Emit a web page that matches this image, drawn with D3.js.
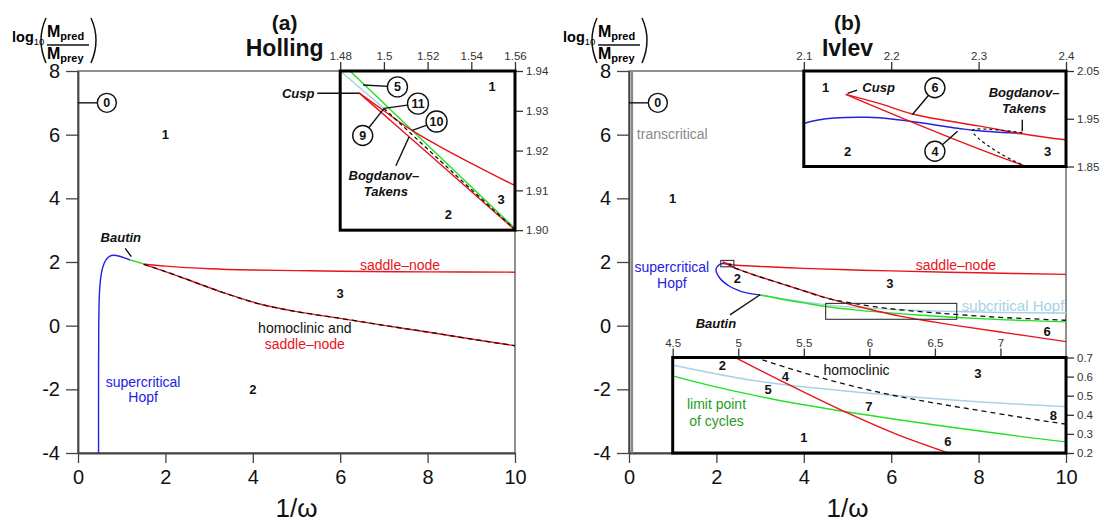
<!DOCTYPE html>
<html>
<head>
<meta charset="utf-8">
<script src="https://cdn.jsdelivr.net/npm/d3@7"></script>
<style>
  body { margin: 0; background: #fff; }
  svg { font-family: "Liberation Sans", Arial, sans-serif; }
</style>
</head>
<body>
<svg id="chart" width="1104" height="525"></svg>
<script>
// ---------- data ----------
const xTicks = [0, 2, 4, 6, 8, 10];
const yTicks = [-4, -2, 0, 2, 4, 6, 8];
const zeroRegionY = 7;

// (a) Holling, full view
const hoHopfX = [0.47, 0.47, 0.475, 0.49, 0.52, 0.57, 0.64, 0.72, 0.82, 0.95, 1.08, 1.2];
const hoHopfY = [-4.2, -2, 0, 1, 1.5, 1.85, 2.07, 2.18, 2.21, 2.18, 2.12, 2.06];
const hoLpcX = [1.2, 1.33, 1.48];
const hoLpcY = [2.06, 2.01, 1.95];
const hoSnUpX = [1.49, 2, 3, 4, 5, 6, 8, 10];
const hoSnUpY = [1.935, 1.87, 1.79, 1.75, 1.73, 1.71, 1.69, 1.68];
const hoSnLoX = [1.49, 2, 2.64, 3.3, 4.16, 5, 6, 7, 8, 9, 10];
const hoSnLoY = [1.935, 1.70, 1.38, 1.05, 0.68, 0.44, 0.23, 0.01, -0.20, -0.42, -0.63];
const hoHomX = [1.51, 2, 2.64, 3.3, 4.16, 5, 6, 7, 8, 9, 10];
const hoHomY = [1.925, 1.70, 1.38, 1.05, 0.68, 0.44, 0.23, 0.01, -0.20, -0.42, -0.63];

// (a) Holling, zoom near the cusp
const hoZoomX = [1.48, 1.56];
const hoZoomY = [1.90, 1.94];
const hoZoomXTicks = [1.48, 1.5, 1.52, 1.54, 1.56];
const hoZoomYTicks = [1.90, 1.91, 1.92, 1.93, 1.94];
const hoInLpcX = [1.47, 1.5125, 1.57];
const hoInLpcY = [1.9476, 1.9253, 1.8952];
const hoInSubX = [1.47, 1.50];
const hoInSubY = [1.9447, 1.9306];
const hoInHomX = [1.5, 1.53, 1.5585, 1.57];
const hoInHomY = [1.9306, 1.9153, 1.9009, 1.8952];
const hoInSnLoX = [1.4886, 1.52, 1.57];
const hoInSnLoY = [1.9345, 1.9194, 1.8952];
const hoInSnUpX = [1.4886, 1.50, 1.5125, 1.525, 1.54, 1.56, 1.57];
const hoInSnUpY = [1.9345, 1.9300, 1.9252, 1.9212, 1.9168, 1.9112, 1.9085];

// (b) Ivlev
const ivTransX = [0.07, 0.07];
const ivTransY = [-4, 8];
const ivHopfX = [2.35, 2.293, 2.276, 2.173, 2.1, 2.04, 1.99, 2.08, 2.31, 2.5, 2.69, 3.0];
const ivHopfY = [1.919, 1.926, 1.93, 1.953, 1.94, 1.88, 1.78, 1.49, 1.23, 1.11, 1.03, 0.965];
const ivSubX = [3.0, 3.5, 4.0, 4.5, 5.17, 6.0, 6.8, 7.5, 8.5, 10];
const ivSubY = [0.965, 0.845, 0.745, 0.661, 0.574, 0.513, 0.47, 0.443, 0.415, 0.40];
const ivLpcX = [3.0, 3.5, 4.0, 4.5, 5.17, 5.82, 6.7, 7.5, 8.5, 10];
const ivLpcY = [0.965, 0.83, 0.715, 0.604, 0.495, 0.416, 0.328, 0.258, 0.19, 0.12];
const ivSnUpX = [2.148, 2.19, 2.224, 2.3, 2.4, 3, 4, 5, 6, 8, 10];
const ivSnUpY = [2.001, 1.98, 1.96, 1.935, 1.906, 1.86, 1.80, 1.755, 1.72, 1.66, 1.61];
const ivSnLoX = [2.148, 2.352, 2.6, 3, 3.6, 4.2, 4.5, 4.95, 5.32, 5.8, 6.2, 6.54, 7, 7.5, 8.5, 10];
const ivSnLoY = [2.001, 1.852, 1.72, 1.53, 1.27, 1.01, 0.88, 0.71, 0.58, 0.42, 0.30, 0.215, 0.11, 0.0, -0.2, -0.5];
const ivHomX = [2.35, 2.293, 2.30, 2.352, 2.6, 3, 3.6, 4.2, 4.5, 4.8, 5.145, 5.6, 6.16, 6.95, 7.46, 8.5, 10];
const ivHomY = [1.921, 1.926, 1.909, 1.852, 1.72, 1.53, 1.27, 1.0, 0.87, 0.78, 0.697, 0.60, 0.505, 0.41, 0.355, 0.26, 0.17];

const ivTopX = [2.1, 2.4], ivTopY = [1.85, 2.05];
const ivTopXTicks = [2.1, 2.2, 2.3, 2.4];
const ivTopYTicks = [1.85, 1.95, 2.05];
const ivBotX = [4.5, 7.5], ivBotY = [0.2, 0.7];
const ivBotXTicks = [4.5, 5, 5.5, 6, 6.5, 7];
const ivBotYTicks = [0.2, 0.3, 0.4, 0.5, 0.6, 0.7];

// ---------- drawing ----------
const svg = d3.select('#chart');
const defs = svg.append('defs');
const FONT = '"Liberation Sans", Arial, sans-serif';
const col = { red: '#e8141b', blue: '#2222e0', green: '#22e022', lblue: '#a8d1e6', grey: '#8a8a8a', dkgreen: '#2a9a2a' };

const pts = (xs, ys) => xs.map((v, i) => [v, ys[i]]);

function draw(g, sx, sy, xs, ys, color, dash, w) {
  const ln = d3.line().x(d => sx(d[0])).y(d => sy(d[1])).curve(d3.curveCatmullRom.alpha(0.5));
  g.append('path').datum(pts(xs, ys))
    .attr('d', ln)
    .attr('fill', 'none')
    .attr('stroke', color)
    .attr('stroke-width', w || 1.4)
    .attr('stroke-dasharray', dash || null);
}

function label(g, x, y, s, o = {}) {
  return g.append('text').attr('x', x).attr('y', y)
    .attr('text-anchor', o.anchor || 'middle')
    .attr('dominant-baseline', o.base ? null : 'central')
    .attr('font-size', o.size || 13)
    .attr('font-weight', o.bold ? 'bold' : null)
    .attr('font-style', o.italic ? 'italic' : null)
    .attr('fill', o.color || '#111')
    .text(s);
}

function seg(g, x1, y1, x2, y2) {
  g.append('line').attr('x1', x1).attr('y1', y1).attr('x2', x2).attr('y2', y2)
    .attr('stroke', '#111').attr('stroke-width', 1.4);
}

function ring(g, cx, cy, s, r) {
  g.append('circle').attr('cx', cx).attr('cy', cy).attr('r', r || 10)
    .attr('fill', '#fff').attr('stroke', '#111').attr('stroke-width', 1.4);
  label(g, cx, cy + 0.5, s, { bold: true, size: 12.5 });
}

let clipN = 0;
function clip(g, x0, y0, w, h) {
  const id = 'clip' + (clipN++);
  defs.append('clipPath').attr('id', id)
    .append('rect').attr('x', x0).attr('y', y0).attr('width', w).attr('height', h);
  return g.append('g').attr('clip-path', `url(#${id})`);
}

function yLabel(ox) {
  const t = svg.append('g').attr('transform', `translate(${ox},0)`);
  const l = t.append('text').attr('x', 12).attr('y', 42).attr('font-size', 14.5).attr('font-weight', 'bold').text('log');
  l.append('tspan').attr('font-size', 9.5).attr('font-weight', 'normal').attr('dy', 3).text('10');
  t.append('path').attr('d', 'M46,18 Q36,40 46,63').attr('fill', 'none').attr('stroke', '#111').attr('stroke-width', 1.5);
  t.append('path').attr('d', 'M91,18 Q101,40 91,63').attr('fill', 'none').attr('stroke', '#111').attr('stroke-width', 1.5);
  const m1 = t.append('text').attr('x', 47).attr('y', 37).attr('font-size', 16).attr('font-weight', 'bold').text('M');
  m1.append('tspan').attr('font-size', 11).attr('dy', 3).text('pred');
  t.append('line').attr('x1', 47).attr('x2', 89).attr('y1', 45).attr('y2', 45).attr('stroke', '#111').attr('stroke-width', 1.3);
  const m2 = t.append('text').attr('x', 47).attr('y', 59).attr('font-size', 16).attr('font-weight', 'bold').text('M');
  m2.append('tspan').attr('font-size', 11).attr('dy', 3).text('prey');
}

function styleAxis(a, size, color) {
  a.attr('font-family', FONT).attr('font-size', size);
  a.selectAll('.tick text').attr('fill', '#111');
  a.selectAll('.tick line').attr('stroke', color).attr('stroke-width', 1.3);
  a.select('.domain').attr('stroke', color);
}

function panel(left, tag, name, titleX) {
  const x = d3.scaleLinear().domain([0, 10]).range([left, left + 437]);
  const y = d3.scaleLinear().domain([-4, 8]).range([453, 71]);
  const g = svg.append('g');
  g.append('rect').attr('x', x(0)).attr('y', y(8)).attr('width', x(10) - x(0)).attr('height', y(-4) - y(8))
    .attr('fill', 'none').attr('stroke', '#333').attr('stroke-width', 1.1);
  const ax = g.append('g').attr('transform', `translate(0,${y(-4)})`)
    .call(d3.axisBottom(x).tickValues(xTicks).tickSize(10).tickPadding(7).tickSizeOuter(0));
  const ay = g.append('g').attr('transform', `translate(${x(0)},0)`)
    .call(d3.axisLeft(y).tickValues(yTicks).tickSize(12).tickPadding(6).tickSizeOuter(0)
      .tickFormat(d => d < 0 ? '-' + (-d) : String(d)));
  styleAxis(ax, 20, '#444');
  styleAxis(ay, 20, '#444');
  ax.select('.domain').attr('stroke-width', 1.8);
  ay.select('.domain').attr('stroke-width', 1.8);
  const c = clip(g, x(0), y(8), x(10) - x(0), y(-4) - y(8));
  const a = svg.append('g');
  label(a, x(titleX), 30, tag, { bold: true, size: 21, base: true });
  label(a, x(titleX), 56, name, { bold: true, size: 23, base: true });
  const xl = label(a, x(5), 517, '1/', { size: 26, base: true });
  xl.append('tspan').text('ω');
  seg(a, x(0), y(zeroRegionY), x(0.66), y(zeroRegionY));
  ring(a, x(0.66), y(zeroRegionY), '0', 9.5);
  yLabel(left - 78);
  return { x, y, c, a };
}

function inset(P, mx, my, dx, dy, xt, xf, yt, yf) {
  const x0 = P.x(mx[0]), x1 = P.x(mx[1]), y0 = P.y(my[1]), y1 = P.y(my[0]);
  const sx = d3.scaleLinear().domain(dx).range([x0, x1]);
  const sy = d3.scaleLinear().domain(dy).range([y1, y0]);
  const g = svg.append('g');
  g.append('rect').attr('x', x0).attr('y', y0).attr('width', x1 - x0).attr('height', y1 - y0).attr('fill', '#fff');
  const c = clip(g, x0, y0, x1 - x0, y1 - y0);
  const top = g.append('g').attr('transform', `translate(0,${y0})`)
    .call(d3.axisTop(sx).tickValues(xt).tickFormat(xf).tickSize(9).tickPadding(2).tickSizeOuter(0));
  const right = g.append('g').attr('transform', `translate(${x1},0)`)
    .call(d3.axisRight(sy).tickValues(yt).tickFormat(yf).tickSize(8).tickPadding(3).tickSizeOuter(0));
  styleAxis(top, 11.5, '#333');
  styleAxis(right, 11.5, '#333');
  top.selectAll('.tick text').attr('fill', '#333');
  right.selectAll('.tick text').attr('fill', '#333');
  g.append('rect').attr('x', x0).attr('y', y0).attr('width', x1 - x0).attr('height', y1 - y0)
    .attr('fill', 'none').attr('stroke', '#000').attr('stroke-width', 3);
  const a = g.append('g');
  return { sx, sy, c, a };
}

const bold = { bold: true, size: 13 };
const bi = { bold: true, italic: true, size: 13 };

// ===== panel (a) Holling =====
const A = panel(78, '(a)', 'Holling', 4.73);
draw(A.c, A.x, A.y, hoHopfX, hoHopfY, col.blue);
draw(A.c, A.x, A.y, hoLpcX, hoLpcY, col.green);
draw(A.c, A.x, A.y, hoSnUpX, hoSnUpY, col.red);
draw(A.c, A.x, A.y, hoSnLoX, hoSnLoY, col.red);
draw(A.c, A.x, A.y, hoHomX, hoHomY, '#111', '5,4', 1.3);

label(A.a, A.x(2), A.y(6), '1', bold);
label(A.a, A.x(6), A.y(1.0), '3', bold);
label(A.a, A.x(4), A.y(-2), '2', bold);
label(A.a, A.x(7.37), A.y(1.9), 'saddle\u2013node', { size: 14, color: col.red });
label(A.a, A.x(5.19), A.y(-0.07), 'homoclinic and', { size: 14 });
label(A.a, A.x(5.19), A.y(-0.58), 'saddle\u2013node', { size: 14, color: col.red });
label(A.a, A.x(1.49), A.y(-1.77), 'supercritical', { size: 14, color: col.blue });
label(A.a, A.x(1.49), A.y(-2.24), 'Hopf', { size: 14, color: col.blue });
label(A.a, A.x(0.98), A.y(2.78), 'Bautin', bi);
seg(A.a, A.x(1.08), A.y(2.43), A.x(1.22), A.y(2.17));

const IA = inset(A, [6, 10], [3, 8], hoZoomX, hoZoomY, hoZoomXTicks, d3.format('~g'), hoZoomYTicks, d3.format('.2f'));
draw(IA.c, IA.sx, IA.sy, hoInSubX, hoInSubY, col.lblue);
draw(IA.c, IA.sx, IA.sy, hoInLpcX, hoInLpcY, col.green);
draw(IA.c, IA.sx, IA.sy, hoInSnUpX, hoInSnUpY, col.red);
draw(IA.c, IA.sx, IA.sy, hoInSnLoX, hoInSnLoY, col.red);
draw(IA.c, IA.sx, IA.sy, hoInHomX, hoInHomY, '#111', '4,3', 1.3);
{
  const g = IA.a, sx = IA.sx, sy = IA.sy;
  label(g, sx(1.5495), sy(1.936), '1', bold);
  label(g, sx(1.5295), sy(1.904), '2', bold);
  label(g, sx(1.5536), sy(1.9078), '3', bold);
  seg(g, sx(1.4905), sy(1.9365), sx(1.5062), sy(1.936));
  ring(g, sx(1.5062), sy(1.936), '5');
  seg(g, sx(1.5001), sy(1.9306), sx(1.5156), sy(1.9318));
  seg(g, sx(1.5001), sy(1.9306), sx(1.4903), sy(1.9238));
  ring(g, sx(1.5156), sy(1.9318), '11', 10.5);
  ring(g, sx(1.4903), sy(1.9238), '9');
  seg(g, sx(1.513), sy(1.9251), sx(1.5241), sy(1.9273));
  ring(g, sx(1.5241), sy(1.9273), '10', 10.5);
  label(g, sx(1.5), sy(1.9137), 'Bogdanov\u2013', bi);
  label(g, sx(1.5009), sy(1.9097), 'Takens', bi);
  seg(g, sx(1.5055), sy(1.9162), sx(1.5115), sy(1.9234));
  label(g, sx(1.4682), sy(1.9344), 'Cusp', Object.assign({ anchor: 'end' }, bi));
  seg(g, sx(1.4695), sy(1.9344), sx(1.4886), sy(1.9344));
}

// ===== panel (b) Ivlev =====
const B = panel(629, '(b)', 'Ivlev', 5);
draw(B.c, B.x, B.y, ivTransX, ivTransY, col.grey, null, 2.2);
draw(B.c, B.x, B.y, ivSubX, ivSubY, col.lblue);
draw(B.c, B.x, B.y, ivLpcX, ivLpcY, col.green);
draw(B.c, B.x, B.y, ivHopfX, ivHopfY, col.blue);
draw(B.c, B.x, B.y, ivSnUpX, ivSnUpY, col.red);
draw(B.c, B.x, B.y, ivSnLoX, ivSnLoY, col.red);
draw(B.c, B.x, B.y, ivHomX, ivHomY, '#111', '5,4', 1.3);
[[ivTopX, ivTopY], [ivBotX, ivBotY]].forEach(([bx, by]) => {
  B.a.append('rect').attr('x', B.x(bx[0])).attr('y', B.y(by[1]))
    .attr('width', B.x(bx[1]) - B.x(bx[0])).attr('height', B.y(by[0]) - B.y(by[1]))
    .attr('fill', 'none').attr('stroke', '#333').attr('stroke-width', 1.1);
});

label(B.a, B.x(0.18), B.y(6.02), 'transcritical', { size: 14, color: col.grey, anchor: 'start' });
label(B.a, B.x(1), B.y(4), '1', bold);
label(B.a, B.x(0.98), B.y(1.84), 'supercritical', { size: 14, color: col.blue });
label(B.a, B.x(0.98), B.y(1.34), 'Hopf', { size: 14, color: col.blue });
label(B.a, B.x(2.48), B.y(1.49), '2', bold);
label(B.a, B.x(1.99), B.y(0.06), 'Bautin', bi);
seg(B.a, B.x(2.31), B.y(0.34), B.x(3.0), B.y(0.97));
label(B.a, B.x(7.48), B.y(1.9), 'saddle\u2013node', { size: 14, color: col.red });
label(B.a, B.x(5.97), B.y(1.31), '3', bold);
label(B.a, B.x(8.79), B.y(0.64), 'subcritical Hopf', { size: 15, color: col.lblue });
label(B.a, B.x(9.57), B.y(-0.19), '6', bold);

const IT = inset(B, [4, 10], [5, 8], ivTopX, ivTopY, ivTopXTicks, d3.format('.1f'), ivTopYTicks, d3.format('.2f'));
draw(IT.c, IT.sx, IT.sy, ivHopfX, ivHopfY, col.blue);
draw(IT.c, IT.sx, IT.sy, ivSnUpX, ivSnUpY, col.red);
draw(IT.c, IT.sx, IT.sy, ivSnLoX, ivSnLoY, col.red);
draw(IT.c, IT.sx, IT.sy, ivHomX, ivHomY, '#111', '3,3', 1.2);
{
  const g = IT.a, sx = IT.sx, sy = IT.sy;
  label(g, sx(2.125), sy(2.015), '1', bold);
  label(g, sx(2.15), sy(1.882), '2', bold);
  label(g, sx(2.379), sy(1.882), '3', bold);
  label(g, sx(2.167), sy(2.016), 'Cusp', Object.assign({ anchor: 'start' }, bi));
  seg(g, sx(2.15), sy(2.003), sx(2.161), sy(2.01));
  seg(g, sx(2.2243), sy(1.959), sx(2.25), sy(2.015));
  ring(g, sx(2.25), sy(2.015), '6');
  seg(g, sx(2.276), sy(1.924), sx(2.25), sy(1.882));
  ring(g, sx(2.25), sy(1.882), '4');
  label(g, sx(2.352), sy(2.006), 'Bogdanov\u2013', bi);
  label(g, sx(2.352), sy(1.971), 'Takens', bi);
  seg(g, sx(2.35), sy(1.948), sx(2.35), sy(1.924));
}

const IB = inset(B, [1, 10], [-4, -1], ivBotX, ivBotY, ivBotXTicks, d3.format('~g'), ivBotYTicks, d3.format('.1f'));
draw(IB.c, IB.sx, IB.sy, ivSubX, ivSubY, col.lblue);
draw(IB.c, IB.sx, IB.sy, ivLpcX, ivLpcY, col.green);
draw(IB.c, IB.sx, IB.sy, ivSnLoX, ivSnLoY, col.red);
draw(IB.c, IB.sx, IB.sy, ivHomX, ivHomY, '#111', '5,4', 1.3);
{
  const g = IB.a, sx = IB.sx, sy = IB.sy;
  label(g, sx(4.879), sy(0.656), '2', bold);
  label(g, sx(5.36), sy(0.6), '4', bold);
  label(g, sx(5.228), sy(0.534), '5', bold);
  label(g, sx(5.902), sy(0.635), 'homoclinic', { size: 14 });
  label(g, sx(6.828), sy(0.618), '3', bold);
  label(g, sx(5.996), sy(0.446), '7', bold);
  label(g, sx(7.404), sy(0.398), '8', bold);
  label(g, sx(4.834), sy(0.456), 'limit point', { size: 14, color: col.dkgreen });
  label(g, sx(4.834), sy(0.367), 'of cycles', { size: 14, color: col.dkgreen });
  label(g, sx(5.5), sy(0.281), '1', bold);
  label(g, sx(6.599), sy(0.258), '6', bold);
}
</script>
</body>
</html>
